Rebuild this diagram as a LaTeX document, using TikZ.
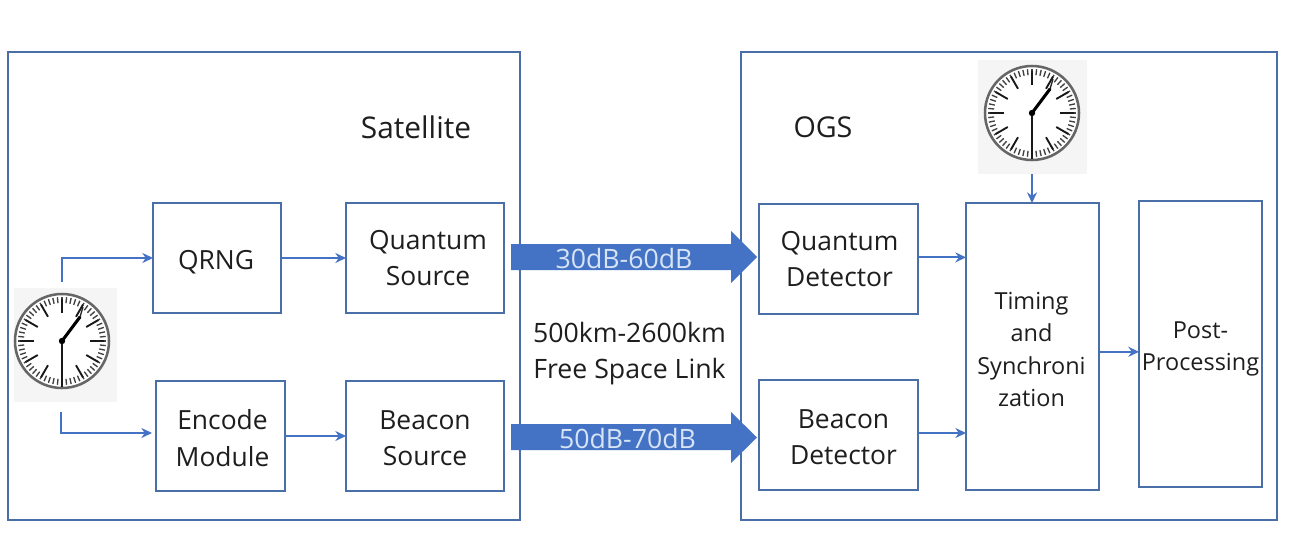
\documentclass[tikz,border=0pt]{standalone}
\usepackage{fontspec}
\setmainfont{Open Sans}
\usetikzlibrary{arrows.meta}
\definecolor{framec}{HTML}{4A6FA8}
\definecolor{boxc}{HTML}{4472C4}
\definecolor{arrowc}{HTML}{4472C4}
\definecolor{labc}{HTML}{D6E4F5}
\definecolor{txt}{HTML}{1E1E1E}
\tikzset{
  x=0.75pt,y=-0.75pt,
  frame/.style={draw=framec,line width=1.4pt},
  blockbox/.style={draw=framec,line width=1.4pt,inner sep=0pt,outer sep=0pt},
  blocktext/.style={align=center,text=txt,font=\fontsize{19.8}{27.2}\selectfont,inner sep=0pt},
  smalltext/.style={align=center,text=txt,font=\fontsize{17.6}{24.4}\selectfont,inner sep=0pt},
  link/.style={draw=boxc,line width=1.4pt,-{Stealth[length=8pt,width=7.5pt]}},
  bigarrow/.style={fill=arrowc,draw=none},
  arrowlabel/.style={text=labc,font=\fontsize{20}{24}\selectfont,inner sep=0pt},
  plain/.style={text=txt,font=\fontsize{20}{27}\selectfont,align=center,inner sep=0pt},
  clockbg/.style={fill=black!4,draw=none,inner sep=0pt},
}
% name, x1, y1, x2, y2, text style, text x shift, text y shift (px), text
\newcommand{\mybox}[9]{\node[blockbox,minimum width=#4*0.75pt-#2*0.75pt,minimum height=#5*0.75pt-#3*0.75pt,anchor=north west,
  label={[#6,xshift=#7*0.75pt,yshift=-#8*0.75pt]center:{#9}}] (#1) at (#2,#3) {};}
\newcommand{\myclock}[1]{%
  \begin{scope}[shift={(#1)}]
    \fill[white] (0,0) circle[radius=47];
    \draw[black!60,line width=1.9pt] (0,0) circle[radius=47];
    \foreach \a in {0,6,...,354}{\draw[black!75,line width=1pt] (\a:38) -- (\a:44);}
    \foreach \a in {0,30,...,330}{\draw[black!90,line width=1.4pt] (\a:28) -- (\a:42);}
    \draw[black!90,line width=1.5pt] (0,0) -- (0,46);
    \draw[black,line width=2.3pt,line cap=round] (0,0) -- (18,-24);
    \draw[black!85,line width=1pt] (18,-24) -- (21,-34);
    \fill[black] (0,0) circle[radius=3.2];
  \end{scope}}
\begin{document}
\begin{tikzpicture}
\useasboundingbox (0,0) rectangle (1292,546);
\fill[white] (0,0) rectangle (1292,546);
\draw[frame] (8,52) rectangle (520,520);
\draw[frame] (741,52) rectangle (1277,520);
\node[plain,font=\fontsize{22.4}{27}\selectfont] (sat) at (416,127) {Satellite};
\node[plain,font=\fontsize{21.5}{27}\selectfont] (ogs) at (823,127) {OGS};
\mybox{qrng}{153}{203}{281}{313}{blocktext}{-1}{4}{QRNG}
\mybox{qsrc}{346}{203}{504}{313}{blocktext}{3}{0}{Quantum\\Source}
\mybox{enc}{156}{381}{285}{491}{blocktext}{2}{2}{Encode\\Module}
\mybox{bsrc}{346}{381}{504}{491}{blocktext}{0}{2}{Beacon\\Source}
\mybox{qdet}{759}{204}{918}{314}{blocktext}{1}{0}{Quantum\\Detector}
\mybox{bdet}{759}{380}{918}{490}{blocktext}{5}{2}{Beacon\\Detector}
\mybox{tim}{966}{203}{1099}{490}{smalltext}{-1}{3}{Timing\\and\\Synchroni\\zation}
\mybox{post}{1139}{201}{1262}{487}{smalltext}{0}{5}{Post-\\Processing}
% clocks
\node[clockbg,minimum width=103*0.75pt,minimum height=114*0.75pt] (clkA) at (65.5,345) {};
\node[clockbg,minimum width=109*0.75pt,minimum height=114*0.75pt] (clkB) at (1032.5,117) {};
\myclock{62,341}
\myclock{1032,113}
% connectors
\coordinate (a1) at (62,282);
\coordinate (a2) at (61,412);
\coordinate (b1) at (1032,174);
\draw[link] (a1) -- (a1 |- qrng.west) -- (qrng.west);
\draw[link,shorten >=3pt] (a2) -- ([yshift=2.25pt]a2 |- enc.west) -- ([yshift=2.25pt]enc.west);
\draw[link] (qrng.east) -- (qsrc.west);
\draw[link] (enc.east) -- (bsrc.west);
\draw[link] ([yshift=1.2pt]qdet.east) -- ([yshift=1.2pt]qdet.east -| tim.west);
\draw[link] ([yshift=1.5pt]bdet.east) -- ([yshift=1.5pt]bdet.east -| tim.west);
\draw[link] (b1) -- (b1 |- tim.north);
\draw[link] ([yshift=-4pt]tim.east) -- ([yshift=-4pt]tim.east -| post.west);
% block arrows
\fill[bigarrow] (511,244) -- (731,244) -- (731,231) -- (757,257) -- (731,283) -- (731,270) -- (511,270) -- cycle;
\fill[bigarrow] (511,424) -- (731,424) -- (731,412) -- (757,437.5) -- (731,463) -- (731,450) -- (511,450) -- cycle;
\node[arrowlabel] (l1) at (624,258) {30dB-60dB};
\node[arrowlabel] (l2) at (627.5,438) {50dB-70dB};
\node[plain] (fs) at (629.5,354) {500km-2600km\\Free Space Link};
\end{tikzpicture}
\end{document}
